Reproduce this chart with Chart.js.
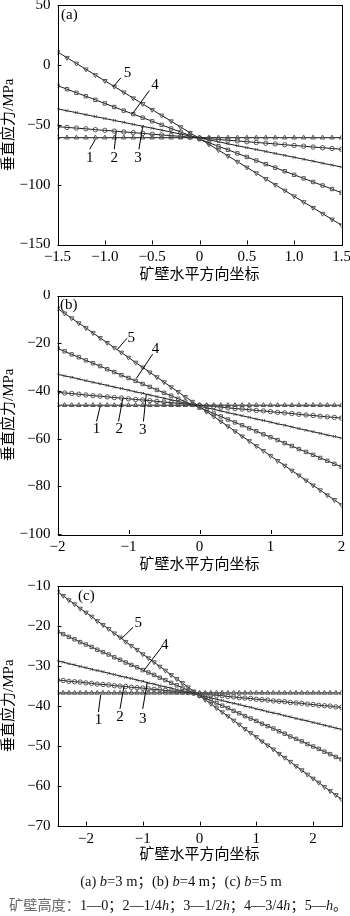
<!DOCTYPE html>
<html>
<head>
<meta charset="utf-8">
<script src="https://cdn.jsdelivr.net/npm/chart.js@4.4.0/dist/chart.umd.min.js"></script>
<style>
  body { margin: 0; background: #fff; width: 350px; height: 916px; position: relative; overflow: hidden; }
  canvas { position: absolute; left: 0; }
  #cap1 { position: absolute; top: 869px; left: 0; width: 362px; text-align: center; font: 14.5px "Liberation Serif", "Noto Sans CJK SC"; color: #111; white-space: nowrap; }
  #cap2 { position: absolute; top: 894px; left: 9px; font: 14.2px "Liberation Serif", "Noto Sans CJK SC"; color: #111; white-space: nowrap; }
  #cap2 .g { color: #666; }
</style>
</head>
<body>
<canvas id="chartA" width="350" height="290" style="top:0px"></canvas>
<canvas id="chartB" width="350" height="290" style="top:290px"></canvas>
<canvas id="chartC" width="350" height="290" style="top:580px"></canvas>
<div id="cap1">(a) <i>b</i>=3 m；(b) <i>b</i>=4 m；(c) <i>b</i>=5 m</div>
<div id="cap2"><span class="g">矿壁高度：</span>1—0；2—1/4<i>h</i>；3—1/2<i>h</i>；4—3/4<i>h</i>；5—<i>h</i>。</div>
<script>
// (a) b=3 m
var xA = [-1.5,-1.4,-1.3,-1.2,-1.1,-1.0,-0.9,-0.8,-0.7,-0.6,-0.5,-0.4,-0.3,-0.2,-0.1,0,0.1,0.2,0.3,0.4,0.5,0.6,0.7,0.8,0.9,1.0,1.1,1.2,1.3,1.4,1.5];
var aS1 = [-60.8,-60.8,-60.8,-60.8,-60.8,-60.8,-60.8,-60.8,-60.8,-60.8,-60.8,-60.8,-60.8,-60.8,-60.8,-60.8,-60.8,-60.8,-60.8,-60.8,-60.8,-60.8,-60.8,-60.8,-60.8,-60.8,-60.8,-60.8,-60.8,-60.8,-60.8];
var aS2 = [-51.6,-52.2,-52.8,-53.4,-54.1,-54.7,-55.3,-56.0,-56.6,-57.2,-57.9,-58.5,-59.1,-59.7,-60.4,-61.0,-61.6,-62.3,-62.9,-63.5,-64.2,-64.8,-65.4,-66.0,-66.7,-67.3,-67.9,-68.6,-69.2,-69.8,-70.5];
var aS3 = [-36.7,-38.3,-39.9,-41.6,-43.2,-44.8,-46.4,-48.0,-49.7,-51.3,-52.9,-54.5,-56.1,-57.8,-59.4,-61.0,-62.6,-64.2,-65.9,-67.5,-69.1,-70.7,-72.3,-74.0,-75.6,-77.2,-78.8,-80.4,-82.1,-83.7,-85.3];
var aS4 = [-17.3,-20.3,-23.3,-26.2,-29.2,-32.2,-35.2,-38.2,-41.1,-44.1,-47.1,-50.1,-53.1,-56.0,-59.0,-62.0,-65.0,-68.0,-70.9,-73.9,-76.9,-79.9,-82.9,-85.8,-88.8,-91.8,-94.8,-97.8,-100.7,-103.7,-106.7];
var aS5 = [10.8,6.0,1.2,-3.7,-8.5,-13.3,-18.1,-22.9,-27.8,-32.6,-37.4,-42.2,-47.0,-51.9,-56.7,-61.5,-66.3,-71.1,-76.0,-80.8,-85.6,-90.4,-95.2,-100.1,-104.9,-109.7,-114.5,-119.3,-124.2,-129.0,-133.8];

// (b) b=4 m
var xB = [-2.0,-1.9,-1.8,-1.7,-1.6,-1.5,-1.4,-1.3,-1.2,-1.1,-1.0,-0.9,-0.8,-0.7,-0.6,-0.5,-0.4,-0.3,-0.2,-0.1,0,0.1,0.2,0.3,0.4,0.5,0.6,0.7,0.8,0.9,1.0,1.1,1.2,1.3,1.4,1.5,1.6,1.7,1.8,1.9,2.0];
var bS1 = [-46,-46,-46,-46,-46,-46,-46,-46,-46,-46,-46,-46,-46,-46,-46,-46,-46,-46,-46,-46,-46,-46,-46,-46,-46,-46,-46,-46,-46,-46,-46,-46,-46,-46,-46,-46,-46,-46,-46,-46,-46];
var bS2 = [-40.6,-40.9,-41.1,-41.4,-41.7,-42.0,-42.2,-42.5,-42.8,-43.0,-43.3,-43.6,-43.8,-44.1,-44.4,-44.7,-44.9,-45.2,-45.5,-45.7,-46.0,-46.3,-46.5,-46.8,-47.1,-47.4,-47.6,-47.9,-48.2,-48.4,-48.7,-49.0,-49.2,-49.5,-49.8,-50.1,-50.3,-50.6,-50.9,-51.1,-51.4];
var bS3 = [-33.0,-33.7,-34.3,-35.0,-35.7,-36.4,-37.0,-37.7,-38.4,-39.0,-39.7,-40.4,-41.0,-41.7,-42.4,-43.1,-43.7,-44.4,-45.1,-45.7,-46.4,-47.1,-47.7,-48.4,-49.1,-49.8,-50.4,-51.1,-51.8,-52.4,-53.1,-53.8,-54.4,-55.1,-55.8,-56.5,-57.1,-57.8,-58.5,-59.1,-59.8];
var bS4 = [-22.2,-23.4,-24.7,-25.9,-27.2,-28.4,-29.6,-30.9,-32.1,-33.4,-34.6,-35.8,-37.1,-38.3,-39.6,-40.8,-42.0,-43.3,-44.5,-45.8,-47.0,-48.2,-49.5,-50.7,-52.0,-53.2,-54.4,-55.7,-56.9,-58.2,-59.4,-60.6,-61.9,-63.1,-64.4,-65.6,-66.8,-68.1,-69.3,-70.6,-71.8];
var bS5 = [-5.4,-7.5,-9.5,-11.6,-13.6,-15.7,-17.8,-19.8,-21.9,-23.9,-26.0,-28.1,-30.1,-32.2,-34.2,-36.3,-38.4,-40.4,-42.5,-44.5,-46.6,-48.7,-50.7,-52.8,-54.8,-56.9,-59.0,-61.0,-63.1,-65.1,-67.2,-69.3,-71.3,-73.4,-75.4,-77.5,-79.6,-81.6,-83.7,-85.7,-87.8];

// (c) b=5 m
var xC = [-2.5,-2.4,-2.3,-2.2,-2.1,-2.0,-1.9,-1.8,-1.7,-1.6,-1.5,-1.4,-1.3,-1.2,-1.1,-1.0,-0.9,-0.8,-0.7,-0.6,-0.5,-0.4,-0.3,-0.2,-0.1,0,0.1,0.2,0.3,0.4,0.5,0.6,0.7,0.8,0.9,1.0,1.1,1.2,1.3,1.4,1.5,1.6,1.7,1.8,1.9,2.0,2.1,2.2,2.3,2.4,2.5];
var cS1 = [-36.8,-36.8,-36.8,-36.8,-36.8,-36.8,-36.8,-36.8,-36.8,-36.8,-36.8,-36.8,-36.8,-36.8,-36.8,-36.8,-36.8,-36.8,-36.8,-36.8,-36.8,-36.8,-36.8,-36.8,-36.8,-36.8,-36.8,-36.8,-36.8,-36.8,-36.8,-36.8,-36.8,-36.8,-36.8,-36.8,-36.8,-36.8,-36.8,-36.8,-36.8,-36.8,-36.8,-36.8,-36.8,-36.8,-36.8,-36.8,-36.8,-36.8,-36.8];
var cS2 = [-33.6,-33.7,-33.9,-34.0,-34.1,-34.3,-34.4,-34.6,-34.7,-34.8,-35.0,-35.1,-35.2,-35.4,-35.5,-35.6,-35.8,-35.9,-36.0,-36.2,-36.3,-36.5,-36.6,-36.7,-36.9,-37.0,-37.1,-37.3,-37.4,-37.5,-37.7,-37.8,-38.0,-38.1,-38.2,-38.4,-38.5,-38.6,-38.8,-38.9,-39.0,-39.2,-39.3,-39.4,-39.6,-39.7,-39.9,-40.0,-40.1,-40.3,-40.4];
var cS3 = [-28.8,-29.1,-29.5,-29.8,-30.2,-30.5,-30.9,-31.2,-31.5,-31.9,-32.2,-32.6,-32.9,-33.2,-33.6,-33.9,-34.3,-34.6,-35.0,-35.3,-35.6,-36.0,-36.3,-36.7,-37.0,-37.4,-37.7,-38.0,-38.4,-38.7,-39.1,-39.4,-39.7,-40.1,-40.4,-40.8,-41.1,-41.5,-41.8,-42.1,-42.5,-42.8,-43.2,-43.5,-43.8,-44.2,-44.5,-44.9,-45.2,-45.6,-45.9];
var cS4 = [-21.5,-22.1,-22.8,-23.4,-24.1,-24.7,-25.3,-26.0,-26.6,-27.2,-27.9,-28.5,-29.2,-29.8,-30.4,-31.1,-31.7,-32.3,-33.0,-33.6,-34.3,-34.9,-35.5,-36.2,-36.8,-37.5,-38.1,-38.7,-39.4,-40.0,-40.6,-41.3,-41.9,-42.6,-43.2,-43.8,-44.5,-45.1,-45.7,-46.4,-47.0,-47.7,-48.3,-48.9,-49.6,-50.2,-50.8,-51.5,-52.1,-52.8,-53.4];
var cS5 = [-11.5,-12.5,-13.6,-14.6,-15.7,-16.7,-17.7,-18.8,-19.8,-20.8,-21.9,-22.9,-24.0,-25.0,-26.0,-27.1,-28.1,-29.1,-30.2,-31.2,-32.3,-33.3,-34.3,-35.4,-36.4,-37.5,-38.5,-39.5,-40.6,-41.6,-42.6,-43.7,-44.7,-45.8,-46.8,-47.8,-48.9,-49.9,-50.9,-52.0,-53.0,-54.0,-55.1,-56.1,-57.2,-58.2,-59.2,-60.3,-61.3,-62.3,-63.4];

// curve numbers: text, text x/y, leader from x/y, leader to x/y (data units)
var notesA = [
  ['5', -0.76, -7, -0.91, -18.1, -0.83, -10.8],
  ['4', -0.47, -17, -0.71, -41.1, -0.53, -21.5],
  ['3', -0.65, -78, -0.64, -70.5, -0.60, -51.6],
  ['2', -0.90, -78, -0.90, -70.5, -0.88, -55.6],
  ['1', -1.16, -78, -1.16, -70.5, -1.10, -62.3]
];
var notesB = [
  ['5', -0.96, -18, -1.16, -22.7, -1.02, -17.9],
  ['4', -0.62, -22.4, -0.89, -34.8, -0.66, -24.6],
  ['3', -0.80, -56.6, -0.79, -52.8, -0.75, -41.4],
  ['2', -1.13, -56.2, -1.14, -52.8, -1.08, -43.1],
  ['1', -1.45, -56.2, -1.45, -52.8, -1.40, -46.6]
];
var notesC = [
  ['5', -1.08, -19.4, -1.37, -23.2, -1.17, -20.4],
  ['4', -0.61, -24.8, -0.98, -31.2, -0.67, -25.4],
  ['3', -1.00, -43.3, -1.00, -40.8, -0.92, -34.2],
  ['2', -1.40, -42.8, -1.40, -40.8, -1.33, -35.2],
  ['1', -1.78, -43.6, -1.78, -41.6, -1.74, -37.3]
];

var xTicksA = [-1.5, -1, -0.5, 0, 0.5, 1, 1.5];
var xTicksB = [-2, -1, 0, 1, 2];
var xTicksC = [-2, -1, 0, 1, 2];

var serif = "'Liberation Serif', 'Noto Sans CJK SC'";
var styles = [
  { pointStyle: 'triangle', radius: 2.6, rotation: 0 },
  { pointStyle: 'circle', radius: 2.2, rotation: 0 },
  { pointStyle: 'crossRot', radius: 2, rotation: 0 },
  { pointStyle: 'rect', radius: 2.4, rotation: 0 },
  { pointStyle: 'triangle', radius: 2.6, rotation: 180 }
];

function minus(s) { return String(s).replace('-', '\u2212'); }

var framePlugin = {
  id: 'frame',
  afterDraw: function(chart, args, opts) {
    var ctx = chart.ctx, a = chart.chartArea;
    var xs = chart.scales.x, ys = chart.scales.y;
    ctx.save();
    ctx.strokeStyle = '#000';
    ctx.lineWidth = 1;
    ctx.strokeRect(Math.round(a.left) + 0.5, Math.round(a.top) + 0.5, Math.round(a.right - a.left), Math.round(a.bottom - a.top));
    ctx.beginPath();
    xs.ticks.forEach(function(t) {
      var px = Math.round(xs.getPixelForValue(t.value)) + 0.5;
      ctx.moveTo(px, a.bottom);
      ctx.lineTo(px, a.bottom - 4);
    });
    ys.ticks.forEach(function(t) {
      var py = Math.round(ys.getPixelForValue(t.value)) + 0.5;
      ctx.moveTo(a.left, py);
      ctx.lineTo(a.left + 4, py);
    });
    ctx.stroke();

    ctx.fillStyle = '#000';
    ctx.font = '15px ' + serif;
    ctx.textAlign = 'center';
    ctx.textBaseline = 'middle';
    ctx.beginPath();
    opts.notes.forEach(function(n) {
      ctx.fillText(n[0], xs.getPixelForValue(n[1]), ys.getPixelForValue(n[2]));
      ctx.moveTo(xs.getPixelForValue(n[3]), ys.getPixelForValue(n[4]));
      ctx.lineTo(xs.getPixelForValue(n[5]), ys.getPixelForValue(n[6]));
    });
    ctx.stroke();

    ctx.textAlign = 'left';
    ctx.fillText(opts.tag, opts.tagX, a.top + 10);
    ctx.restore();
  }
};

function makePanel(id, xs, series, cfg) {
  var datasets = series.map(function(ys, k) {
    return {
      data: xs.map(function(x, i) { return { x: x, y: ys[i] }; }),
      showLine: true,
      borderColor: '#1a1a1a',
      borderWidth: 1,
      pointStyle: styles[k].pointStyle,
      pointRadius: styles[k].radius,
      pointRotation: styles[k].rotation,
      pointBorderColor: '#555',
      pointBorderWidth: 1,
      pointBackgroundColor: 'rgba(255,255,255,0)'
    };
  });

  return new Chart(document.getElementById(id), {
    type: 'scatter',
    data: { datasets: datasets },
    plugins: [framePlugin],
    options: {
      responsive: false,
      animation: false,
      layout: { padding: { top: cfg.top, right: 8.5, left: 0, bottom: 0 } },
      plugins: {
        legend: { display: false },
        tooltip: { enabled: false },
        frame: { notes: cfg.notes, tag: cfg.tag, tagX: cfg.tagX }
      },
      scales: {
        x: {
          type: 'linear',
          min: cfg.xMin, max: cfg.xMax,
          grid: { display: false, drawTicks: false },
          border: { display: false },
          afterBuildTicks: function(s) {
            s.ticks = cfg.xTicks.map(function(v) { return { value: v }; });
          },
          afterFit: function(s) { s.height = cfg.xH; s.paddingLeft = 0; s.paddingRight = 0; },
          ticks: {
            padding: 4,
            maxRotation: 0,
            autoSkip: false,
            color: '#000',
            font: { family: serif, size: 15 },
            callback: function(v) { return minus(cfg.xFmt(v)); }
          },
          title: {
            display: true,
            text: '矿壁水平方向坐标',
            color: '#000',
            font: { family: serif, size: 15 },
            padding: { top: 0, bottom: 6 }
          }
        },
        y: {
          min: cfg.yMin, max: cfg.yMax,
          grid: { display: false, drawTicks: false },
          border: { display: false },
          afterFit: function(s) { s.width = 57.5; s.paddingTop = 0; s.paddingBottom = 0; },
          ticks: {
            stepSize: cfg.yStep,
            padding: 7,
            color: '#000',
            font: { family: serif, size: 15 },
            callback: function(v) { return minus(v); }
          },
          title: {
            display: true,
            text: '垂直应力/MPa',
            color: '#000',
            font: { family: serif, size: 15 },
            padding: { top: 0, bottom: 0 }
          }
        }
      }
    }
  });
}

makePanel('chartA', xA, [aS1, aS2, aS3, aS4, aS5], {
  top: 4.5, xH: 45.5, xMin: -1.5, xMax: 1.5, xTicks: xTicksA,
  xFmt: function(v) { return v === 0 ? '0' : v.toFixed(1); },
  yMin: -150, yMax: 50, yStep: 50,
  notes: notesA, tag: '(a)', tagX: 61
});

makePanel('chartB', xB, [bS1, bS2, bS3, bS4, bS5], {
  top: 5.5, xH: 46, xMin: -2, xMax: 2, xTicks: xTicksB,
  xFmt: function(v) { return String(v); },
  yMin: -100, yMax: 0, yStep: 20,
  notes: notesB, tag: '(b)', tagX: 60
});

makePanel('chartC', xC, [cS1, cS2, cS3, cS4, cS5], {
  top: 5.7, xH: 44.3, xMin: -2.5, xMax: 2.5, xTicks: xTicksC,
  xFmt: function(v) { return String(v); },
  yMin: -70, yMax: -10, yStep: 10,
  notes: notesC, tag: '(c)', tagX: 78
});
</script>
</body>
</html>
